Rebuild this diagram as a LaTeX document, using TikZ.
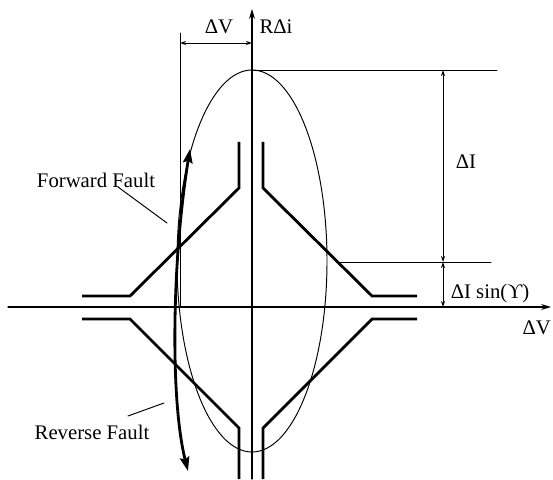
\documentclass[tikz,border=0pt]{standalone}
\usepackage{fontspec}
\setmainfont{Liberation Serif}
\usetikzlibrary{arrows.meta}
\begin{document}
\begin{tikzpicture}[x=0.02cm,y=-0.02cm,>={Stealth[length=2mm,width=1.2mm]},
  font=\fontsize{11.8}{13}\selectfont,line cap=round,
  dimarrow/.style={{Stealth[length=1.2mm,width=0.8mm]}-{Stealth[length=1.2mm,width=0.8mm]},line width=0.55pt},
  charline/.style={line width=1.6pt,line cap=butt,line join=miter},
  faultarrow/.style={{Stealth[length=2.8mm,width=1.9mm,inset=0.4mm]}-{Stealth[length=2.8mm,width=1.9mm,inset=0.4mm]},line width=1.6pt},
  thinline/.style={line width=0.55pt}]
\useasboundingbox (0,0) rectangle (553,479);
% axes
\coordinate (xl) at (8,307);
\coordinate (xr) at (551,307);
\coordinate (yb) at (252,479);
\coordinate (yt) at (252,9);
\draw[->,line width=0.6pt] (xl) -- (xr);
\draw[->,line width=0.6pt] (yb) -- (yt);
\node[anchor=east,inner sep=1pt] (dv) at (553,328) {ΔV};
% circle of the characteristic
\draw[thinline] (252,261) ellipse [x radius=75,y radius=191];
% dimension lines
\coordinate (top) at (252,70);
\coordinate (topr) at (497,70);
\coordinate (mid) at (338,262);
\coordinate (midr) at (491,262);
\coordinate (dI1) at (443,70);
\coordinate (dI2) at (443,262);
\coordinate (dI3) at (443,307);
\draw[thinline] (top) -- (topr);
\draw[thinline] (mid) -- (midr);
\draw[dimarrow] (dI1) -- (dI2);
\draw[dimarrow] (dI2) -- (dI3);
\node (dIlab) at (466,162) {ΔI};
\node (dIsin) at (490,294) {ΔI sin(ϒ)};
\coordinate (dvt) at (180,33);
\coordinate (dvb) at (180,307);
\coordinate (dva) at (180,43);
\coordinate (dvb2) at (252,43);
\draw[thinline] (dvt) -- (dvb);
\draw[dimarrow] (dva) -- (dvb2);
\node (dvlab) at (219,27) {ΔV};
\node (rdi) at (276,27) {RΔi};
% forward and reverse characteristics
\draw[charline] (82,296) -- (130,296) -- (239,188) -- (239,142);
\draw[charline] (263,142) -- (263,188) -- (372,296) -- (417,296);
\draw[charline] (82,319) -- (130,319) -- (239,428) -- (239,479);
\draw[charline] (263,479) -- (263,428) -- (372,319) -- (417,319);
\draw[faultarrow] (190,149) .. controls (172,260) and (170,400) .. (188,471);
% labels
\node (fwd) at (96,180) {Forward Fault};
\node (rev) at (92,432) {Reverse Fault};
\coordinate (fwdend) at (167,223);
\coordinate (revend) at (164,403);
\draw[thinline] (118,187) -- (fwdend);
\draw[thinline] (128,416) -- (revend);
\end{tikzpicture}
\end{document}
